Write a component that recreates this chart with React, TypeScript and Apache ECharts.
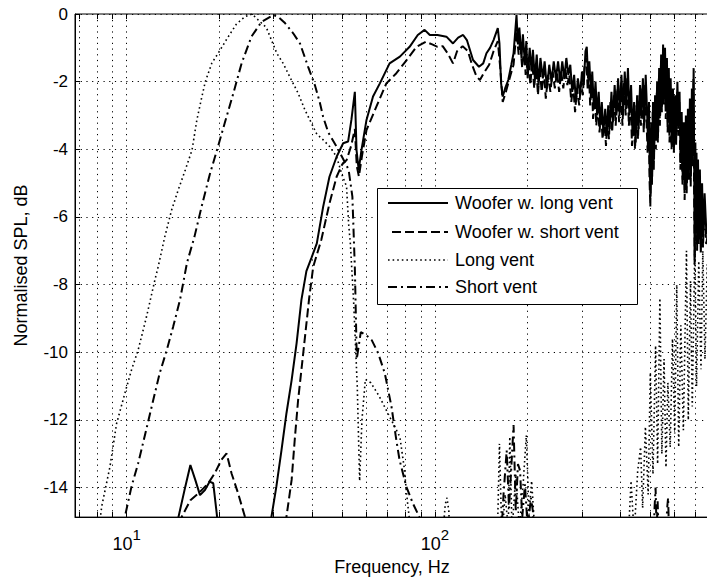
import React, { useEffect, useRef } from "react";
import * as echarts from "echarts";

// ---------- data (frequency in Hz, normalised SPL in dB) ----------
const seriesNames = [
  "Woofer w. long vent",
  "Woofer w. short vent",
  "Long vent",
  "Short vent",
];

const wooferLongVent: [number, number][] = [
  [12, -20], [14.3, -15.6], [14.7, -14.9], [15.5, -13.97], [16.1, -13.33], [16.7, -13.77], [17.3, -14.22],
  [17.95, -14.07], [18.6, -13.82], [19.1, -13.87], [19.6, -14.76], [20.2, -16], [23, -19], [27, -18],
  [29, -15.5], [29.5, -14.86], [30.6, -13.97], [31.8, -12.89], [33, -11.8], [34.3, -10.82], [35.6, -9.73],
  [36.9, -8.45], [38.3, -7.6], [39.8, -7.2], [41.4, -6.78], [43.4, -5.7], [45.5, -4.81], [48, -4.22],
  [50.4, -3.82], [52.3, -3.77], [53.6, -3.13], [55, -2.3], [55.7, -4.02], [56.6, -4.61], [57.8, -4.02],
  [60, -3.13], [63, -2.44], [66.3, -2.05], [71.3, -1.46], [77, -1.26], [82.8, -0.97], [88, -0.62],
  [92.6, -0.47], [96.3, -0.62], [102, -0.62], [109, -0.67], [114.5, -0.87], [119, -0.7], [123.5, -0.62],
  [127, -0.77], [133, -1.36], [139, -1.56], [143.5, -1.46], [147, -1.16], [151, -1.0], [155, -0.77],
  [160, -0.42], [162, -0.87], [164, -2.05], [166, -2.44], [169, -2.2], [173, -1.95], [177, -1.5],
  [180, -1.16], [184, -0.03], [186, -0.9], [188, -0.4], [191, -1.3], [193, -0.6], [196, -1.5], [198, -0.8],
  [200, -1.9], [203, -1.0], [206, -1.7], [208, -1.06], [211, -1.9], [214, -1.2], [217, -2.1], [220, -1.3],
  [224, -1.9], [227, -1.4], [231, -2.2], [235, -1.5], [239, -2.0], [243, -1.4], [247, -1.9], [251, -1.4],
  [255, -2.0], [259, -1.4], [263, -1.9], [267, -1.3], [271, -1.8], [275, -1.5], [279, -2.3], [283, -1.8],
  [287, -2.6], [291, -1.9], [296, -2.4], [300, -1.7], [304, -2.1], [308, -1.1], [311, -0.97], [314, -1.9],
  [317, -1.4], [321, -2.4], [324, -1.7], [328, -2.8], [332, -2.0], [336, -3.0], [340, -2.3], [344, -3.3],
  [348, -2.6], [352, -3.5], [357, -2.8], [361, -3.6], [365, -2.7], [369, -3.4], [374, -2.3], [378, -3.2],
  [383, -2.1], [388, -3.0], [393, -1.9], [398, -2.9], [403, -1.8], [408, -3.0], [413, -1.7], [418, -2.7],
  [423, -1.6], [428, -3.0], [433, -2.1], [438, -3.6], [443, -2.6], [448, -3.8], [453, -2.4], [458, -3.4],
  [463, -2.1], [468, -3.0], [473, -1.9], [478, -3.2], [483, -1.8], [488, -2.9], [492, -3.9], [495, -2.6],
  [498, -4.6], [501, -5.4], [504, -3.2], [507, -4.8], [510, -2.6], [514, -4.3], [518, -2.4], [522, -3.7],
  [526, -2.0], [530, -3.5], [534, -1.6], [538, -3.0], [542, -1.2], [546, -2.6], [550, -0.9], [554, -2.4],
  [558, -1.0], [562, -2.8], [566, -1.3], [570, -3.2], [574, -1.6], [578, -3.5], [582, -1.9], [587, -3.8],
  [592, -2.2], [597, -3.9], [602, -2.4], [607, -3.6], [612, -2.0], [617, -3.3], [622, -2.3], [627, -4.4],
  [632, -2.9], [637, -4.9], [642, -3.2], [647, -5.2], [652, -3.0], [657, -5.0], [662, -2.8], [667, -4.6],
  [672, -2.5], [677, -4.8], [682, -2.2], [687, -4.2], [691, -1.6], [694, -4.6], [697, -7.2], [700, -3.8],
  [703, -6.4], [706, -4.1], [710, -6.7], [714, -4.3], [719, -6.5], [724, -4.6], [730, -6.8], [736, -5.0],
  [742, -6.6], [750, -5.3], [760, -6.5], [775, -6.0],
];

const wooferShortVent: [number, number][] = [
  [12, -20], [14.6, -15.6], [15.1, -14.86], [16.1, -14.37], [17.1, -14.17], [18.4, -13.87], [19.3, -13.58],
  [20.3, -13.18], [21.1, -12.99], [21.9, -13.58], [23, -14.17], [24.2, -14.86], [25, -15.6], [28, -19],
  [31, -18], [32.5, -15.5], [33, -14.86], [34.3, -13.77], [35.1, -12.59], [36, -11.41], [36.9, -10.52],
  [37.9, -9.54], [39.1, -8.4], [40.3, -7.47], [42.8, -6.68], [45.5, -5.6], [48, -4.81], [50, -4.45],
  [51.7, -4.32], [53.5, -3.9], [55, -3.4], [55.8, -4.5], [56.7, -4.8], [58, -4.2], [60, -3.43],
  [64.6, -2.74], [69.6, -2.05], [75, -1.75], [81, -1.36], [87.2, -0.97], [93.5, -0.82], [98, -0.9],
  [102, -0.97], [106, -0.95], [110, -1.16], [114.5, -1.46], [118, -1.1], [123, -0.95], [128, -1.1],
  [132, -1.5], [136.5, -1.85], [140, -1.95], [144, -1.75], [150, -1.5], [155, -1.1], [160, -0.8],
  [163, -1.6], [166, -2.6], [170, -2.3], [176, -1.8], [180, -1.5], [184, -0.5], [187, -1.2], [189, -0.8],
  [192, -1.6], [195, -1.0], [197, -1.8], [201, -1.3], [204, -2.1], [207, -1.4], [210, -2.2], [213, -1.5],
  [216, -2.4], [219, -1.6], [222, -2.3], [226, -1.7], [229, -2.5], [233, -1.8], [237, -2.3], [241, -1.7],
  [245, -2.2], [249, -1.7], [253, -2.3], [257, -1.7], [261, -2.2], [265, -1.6], [269, -2.1], [273, -1.8],
  [277, -2.6], [281, -2.1], [285, -2.9], [289, -2.2], [294, -2.7], [298, -2.0], [302, -2.4], [306, -1.5],
  [310, -1.3], [313, -2.2], [316, -1.7], [319, -2.7], [323, -2.0], [326, -3.1], [330, -2.3], [334, -3.3],
  [338, -2.6], [342, -3.5], [346, -2.9], [350, -3.7], [355, -3.1], [359, -3.9], [363, -3.0], [367, -3.7],
  [371, -2.6], [376, -3.5], [381, -2.4], [386, -3.3], [391, -2.2], [396, -3.2], [401, -2.1], [406, -3.3],
  [411, -2.0], [416, -3.0], [421, -1.9], [426, -3.3], [431, -2.4], [436, -3.9], [441, -2.9], [446, -4.0],
  [451, -2.7], [456, -3.7], [461, -2.4], [466, -3.3], [471, -2.2], [476, -3.5], [481, -2.1], [486, -3.2],
  [490, -4.1], [494, -2.9], [497, -4.9], [500, -5.7], [503, -3.5], [506, -5.1], [509, -2.9], [513, -4.6],
  [517, -2.7], [521, -4.0], [525, -2.3], [529, -3.8], [533, -1.9], [537, -3.3], [541, -1.5], [545, -2.9],
  [549, -1.2], [553, -2.7], [557, -1.3], [561, -3.1], [565, -1.6], [569, -3.5], [573, -1.9], [577, -3.8],
  [581, -2.2], [586, -4.0], [591, -2.5], [596, -4.1], [601, -2.7], [606, -3.9], [611, -2.3], [616, -3.6],
  [621, -2.6], [626, -4.6], [631, -3.2], [636, -5.1], [641, -3.5], [646, -5.5], [651, -3.3], [656, -5.3],
  [661, -3.1], [666, -4.9], [671, -2.8], [676, -5.1], [681, -2.5], [686, -4.5], [690, -1.9], [693, -4.9],
  [696, -7.4], [699, -4.1], [702, -6.7], [705, -4.4], [709, -7.0], [713, -4.6], [718, -6.8], [723, -4.9],
  [729, -7.1], [735, -5.3], [741, -6.9], [749, -5.6], [759, -6.8], [775, -6.3],
];

const longVent: [number, number][] = [
  [7.6, -17.5], [8.3, -14.56], [8.83, -13.38], [9.28, -12.1], [9.87, -11.21], [10.37, -10.52], [10.9, -9.93],
  [11.6, -8.95], [12.35, -7.86], [12.66, -7.47], [13.3, -6.58], [14.0, -5.79], [14.7, -5.2], [15.5, -4.61],
  [16.3, -4.02], [16.9, -3.13], [17.5, -2.49], [18.0, -2.0], [18.9, -1.45], [20, -1.1], [21.1, -0.75],
  [22.7, -0.3], [24.2, -0.08], [25.5, 0], [27.1, -0.23], [28.4, -0.4], [29.5, -0.77], [30.7, -1.16],
  [32.2, -1.46], [33.8, -1.85], [36, -2.34], [37.9, -2.84], [39.3, -3.13], [41.4, -3.55], [43.4, -3.72],
  [45.6, -3.92], [48, -4.22], [49.8, -4.71], [51.7, -5.1], [52.5, -6.2], [53.2, -6.8], [54.5, -8.5],
  [56, -11], [57, -13.8], [58, -12], [59.5, -10.8], [62, -10.9], [66, -11.3], [71.3, -11.9], [77, -12.5],
  [79.5, -13.4], [81, -14.2], [84, -15.5], [95, -18], [105, -16], [108, -14.5], [109.5, -14.3], [111, -14.7],
  [113, -16.5], [150, -18], [159, -16], [162, -12.7], [165, -15.5], [169, -14.2], [173, -15.2], [175, -12.5],
  [178, -15.3], [183, -13.6], [188, -15.2], [193, -14.0], [198, -12.45], [202, -14.8], [206, -13.8],
  [210, -15.0], [214, -16.5], [380, -18], [425, -15.3], [433, -13.8], [443, -15.4], [455, -13.5],
  [465, -12.8], [472, -14.6], [482, -12.2], [492, -14.2], [500, -10.6], [510, -13.6], [520, -9.8],
  [528, -13.3], [537, -8.4], [545, -13.0], [554, -10.2], [562, -13.4], [570, -10.9], [580, -12.8],
  [590, -9.6], [600, -12.4], [609, -8.0], [618, -12.8], [628, -9.2], [640, -12.3], [655, -7.0], [664, -12.0],
  [675, -7.9], [684, -11.6], [697, -6.8], [706, -11.0], [718, -7.3], [730, -10.5], [740, -7.0], [752, -10.2],
  [765, -7.4], [780, -9.5],
];

const shortVent: [number, number][] = [
  [9.4, -17], [9.87, -14.86], [10.37, -13.97], [10.9, -13.28], [11.5, -12.4], [12.2, -11.41], [12.8, -10.62],
  [13.5, -9.93], [14.16, -9.24], [14.9, -8.45], [15.7, -7.35], [16.6, -6.58], [17.5, -5.7], [18.6, -4.75],
  [19.6, -4.05], [20.8, -3.23], [22.2, -2.34], [23.6, -1.46], [25.4, -0.67], [27.4, -0.23], [29.9, -0.03],
  [31, -0.08], [32.5, -0.25], [34.7, -0.57], [36.5, -0.87], [38.8, -1.56], [40.8, -2.1], [42.3, -2.6],
  [43.4, -3.04], [45.1, -3.5], [48, -3.92], [50.5, -4.3], [52.5, -4.6], [54, -5.4], [55, -7.5], [55.8, -10.2],
  [57.5, -9.4], [60, -9.5], [62.4, -9.64], [65.5, -10.03], [68.8, -10.62], [72.3, -11.6], [75, -12.6],
  [76.8, -13.18], [80.8, -13.97], [84.8, -14.46], [89, -14.86], [93, -15.8], [120, -19], [163, -16],
  [167, -14.2], [171, -12.9], [174, -14.6], [177, -13.4], [180, -12.15], [183, -14.7], [186, -13.3],
  [189, -13.5], [192, -14.9], [196, -13.9], [200, -15.2], [205, -14.3], [208, -14.7], [212, -16.5],
  [480, -18], [510, -16], [516, -14.6], [520, -14.0], [524, -15.3], [528, -14.4], [533, -15.6], [550, -17],
  [562, -15.4], [567, -14.6], [571, -14.3], [576, -15.6], [600, -18],
];

// grid frequencies (MATLAB-style log grid) and axis limits
const gridFreqs = [7, 8, 9, 10, 20, 30, 40, 50, 60, 70, 80, 90, 100, 200, 300, 400, 500, 600, 700];
const X_MIN = 6.8;
const X_MAX = 775;
const Y_MIN = -14.87;
const Y_MAX = 0;

const FONT = '"Liberation Sans", Arial, Helvetica, sans-serif';

export default function App() {
  const ref = useRef<HTMLDivElement>(null);

  useEffect(() => {
    if (!ref.current) return;
    const chart = echarts.init(ref.current, undefined, { renderer: "svg" });

    const tickLen = 0.15;
    const markLineData: any[] = [
      ...gridFreqs.map((f) => ({ xAxis: f })),
      ...gridFreqs.map((f) => [
        { coord: [f, Y_MIN], lineStyle: { type: "solid", width: 1, color: "#000" } },
        { coord: [f, Y_MIN + tickLen] },
      ]),
      ...gridFreqs.map((f) => [
        { coord: [f, Y_MAX], lineStyle: { type: "solid", width: 1, color: "#000" } },
        { coord: [f, Y_MAX - tickLen] },
      ]),
    ];

    const styles = [
      { width: 2, type: "solid" as any },
      { width: 2, type: [9, 4] as any },
      { width: 1.6, type: [1.6, 3] as any },
      { width: 2, type: [9, 4, 2, 4] as any },
    ];
    const datasets = [wooferLongVent, wooferShortVent, longVent, shortVent];

    const series: any[] = [2, 3, 1, 0].map((i, k) => ({
      name: seriesNames[i],
      type: "line",
      data: datasets[i],
      symbol: "none",
      smooth: false,
      clip: true,
      lineStyle: { color: "#000", width: styles[i].width, type: styles[i].type },
      z: 3 + k,
      ...(k === 0
        ? {
            markLine: {
              silent: true,
              symbol: ["none", "none"],
              label: { show: false },
              lineStyle: { color: "#000", width: 1, type: [1.2, 4.5] },
              emphasis: { disabled: true },
              data: markLineData,
            },
          }
        : {}),
    }));

    const legendRows = [
      { y: 203, x1: 388, ...styles[0] },
      { y: 232, x1: 392, ...styles[1] },
      { y: 260, x1: 388, ...styles[2] },
      { y: 287, x1: 388, ...styles[3] },
    ];
    const graphic: any[] = [
      {
        type: "rect",
        z: 100,
        shape: { x: 377.5, y: 188.5, width: 260, height: 116 },
        style: { fill: "#fff", stroke: "#000", lineWidth: 1 },
      },
      ...legendRows.map((r) => ({
        type: "line",
        z: 101,
        shape: { x1: r.x1, y1: r.y, x2: 448, y2: r.y },
        style: {
          stroke: "#000",
          lineWidth: r.width,
          lineDash: Array.isArray(r.type) ? r.type : null,
        },
      })),
      ...legendRows.map((r, i) => ({
        type: "text",
        z: 101,
        style: {
          text: seriesNames[i],
          x: 455,
          y: r.y,
          verticalAlign: "middle",
          align: "left",
          fill: "#000",
          font: `18px ${FONT}`,
        },
      })),
    ];

    chart.setOption({
      animation: false,
      backgroundColor: "#fff",
      grid: {
        left: 75, top: 14, right: 11, bottom: 63,
        show: true, borderColor: "#000", borderWidth: 1, backgroundColor: "transparent",
      },
      xAxis: {
        type: "log",
        logBase: 10,
        min: X_MIN,
        max: X_MAX,
        name: "Frequency, Hz",
        nameLocation: "middle",
        nameGap: 39,
        nameTextStyle: { fontFamily: FONT, fontSize: 18, color: "#000" },
        axisLine: { show: true, onZero: false, lineStyle: { color: "#000", width: 1 } },
        axisTick: { show: false },
        splitLine: { show: false },
        minorTick: { show: false },
        axisLabel: {
          margin: 10,
          showMinLabel: false,
          showMaxLabel: false,
          formatter: (v: number) => {
            const e = Math.log10(v);
            if (Math.abs(e - Math.round(e)) > 1e-6) return "";
            return `{b|10}{s|${Math.round(e)}}`;
          },
          rich: {
            b: { fontFamily: FONT, fontSize: 18, color: "#000", lineHeight: 26, verticalAlign: "bottom" },
            s: { fontFamily: FONT, fontSize: 15, color: "#000", lineHeight: 8, verticalAlign: "top" },
          },
        },
      },
      yAxis: {
        type: "value",
        min: Y_MIN,
        max: Y_MAX,
        splitNumber: 7,
        name: "Normalised SPL, dB",
        nameLocation: "middle",
        nameGap: 45,
        nameTextStyle: { fontFamily: FONT, fontSize: 18, color: "#000" },
        axisLine: { show: true, onZero: false, lineStyle: { color: "#000", width: 1 } },
        axisTick: { show: true, inside: true, length: 5, lineStyle: { color: "#000" } },
        splitLine: { show: true, lineStyle: { color: "#000", width: 1, type: [1.2, 4.5] } },
        axisLabel: {
          margin: 7,
          showMinLabel: false,
          fontFamily: FONT,
          fontSize: 17,
          color: "#000",
        },
      },
      series,
      graphic,
    });

    return () => chart.dispose();
  }, []);

  return (
    <div
      style={{
        position: "fixed",
        left: 0,
        top: 0,
        width: 707,
        height: 581,
        overflow: "hidden",
        background: "#fff",
      }}
    >
      <div ref={ref} style={{ width: 720, height: 581 }} />
    </div>
  );
}
